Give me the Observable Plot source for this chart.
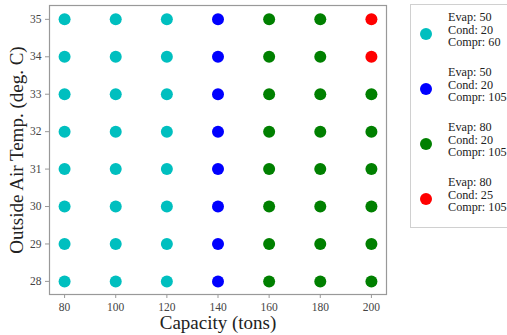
<!DOCTYPE html>
<html>
<head>
<meta charset="utf-8">
<script src="https://cdn.jsdelivr.net/npm/d3@7"></script>
<script src="https://cdn.jsdelivr.net/npm/@observablehq/plot@0.6"></script>
<style>
  html, body { margin: 0; padding: 0; background: #fff; }
  #wrap { position: relative; width: 507px; height: 335px; overflow: hidden; font-family: "Liberation Serif", "DejaVu Serif", serif; }
  #legend { position: absolute; left: 410px; top: 4px; width: 110px; height: 224px; border: 1px solid #d0d0d0; box-sizing: border-box; background: #fff; }
  .item { position: absolute; left: 0; width: 110px; height: 45px; }
  .sw { position: absolute; left: 9px; width: 12px; height: 12px; border-radius: 50%; }
  .lab { position: absolute; left: 37px; font-size: 12.2px; line-height: 12.5px; color: #222; white-space: pre; }
  svg text { font-family: "Liberation Serif", "DejaVu Serif", serif; }
  svg [aria-label="x-axis label"] text, svg [aria-label="y-axis label"] text { font-size: 19px; fill: #222; }
  svg [aria-label="x-axis tick label"] text, svg [aria-label="y-axis tick label"] text { font-size: 11.5px; fill: #444; }
</style>
</head>
<body>
<div id="wrap"></div>
<script>
// Data
const capacities = [80, 100, 120, 140, 160, 180, 200];
const temps = [35, 34, 33, 32, 31, 30, 29, 28];
// configuration index per temperature row (35 → 28), per capacity column
const configGrid = [
  [0, 0, 0, 1, 2, 2, 3],
  [0, 0, 0, 1, 2, 2, 3],
  [0, 0, 0, 1, 2, 2, 2],
  [0, 0, 0, 1, 2, 2, 2],
  [0, 0, 0, 1, 2, 2, 2],
  [0, 0, 0, 1, 2, 2, 2],
  [0, 0, 0, 1, 2, 2, 2],
  [0, 0, 0, 1, 2, 2, 2]
];
const evap = [50, 50, 80, 80];
const cond = [20, 20, 20, 25];
const compr = [60, 105, 105, 105];
const colors = ["#00BFBF", "#0000FF", "#008000", "#FF0000"];
const xTicks = [80, 100, 120, 140, 160, 180, 200];
const yTicks = [28, 29, 30, 31, 32, 33, 34, 35];

const points = [];
temps.forEach((t, i) => capacities.forEach((c, j) => points.push({cap: c, temp: t, cfg: configGrid[i][j]})));

const chart = Plot.plot({
  width: 507,
  height: 335,
  marginLeft: 49,
  marginRight: 121,
  marginTop: 5,
  marginBottom: 41,
  x: {domain: [74.1, 205.9], ticks: xTicks, tickSize: 4, tickPadding: 4, label: "Capacity (tons)", labelArrow: "none", labelAnchor: "center", labelOffset: 34},
  y: {domain: [27.65, 35.37], ticks: yTicks, tickSize: 4, tickPadding: 4, label: "Outside Air Temp. (deg. C)", labelArrow: "none", labelAnchor: "center", labelOffset: 40},
  color: {type: "ordinal", domain: [0, 1, 2, 3], range: colors},
  marks: [
    Plot.frame({stroke: "#999", strokeWidth: 1.2}),
    Plot.dot(points, {x: "cap", y: "temp", fill: d => colors[d.cfg], r: 6, stroke: null})
  ]
});
chart.querySelectorAll('[aria-label$="tick"] path, [aria-label$="tick"]').forEach(n => n.setAttribute("stroke", "#999"));
const wrap = document.getElementById("wrap");
wrap.appendChild(chart);

const legend = document.createElement("div");
legend.id = "legend";
const centers = [31, 86, 141, 196];
evap.forEach((e, i) => {
  const it = document.createElement("div");
  it.className = "item";
  it.style.top = (centers[i] - 22) + "px";
  const sw = document.createElement("div");
  sw.className = "sw";
  sw.style.top = "14px";
  sw.style.background = colors[i];
  const lab = document.createElement("div");
  lab.className = "lab";
  lab.style.top = "-3px";
  lab.textContent = `Evap: ${e}\nCond: ${cond[i]}\nCompr: ${compr[i]}`;
  it.appendChild(sw);
  it.appendChild(lab);
  legend.appendChild(it);
});
wrap.appendChild(legend);
</script>
</body>
</html>
